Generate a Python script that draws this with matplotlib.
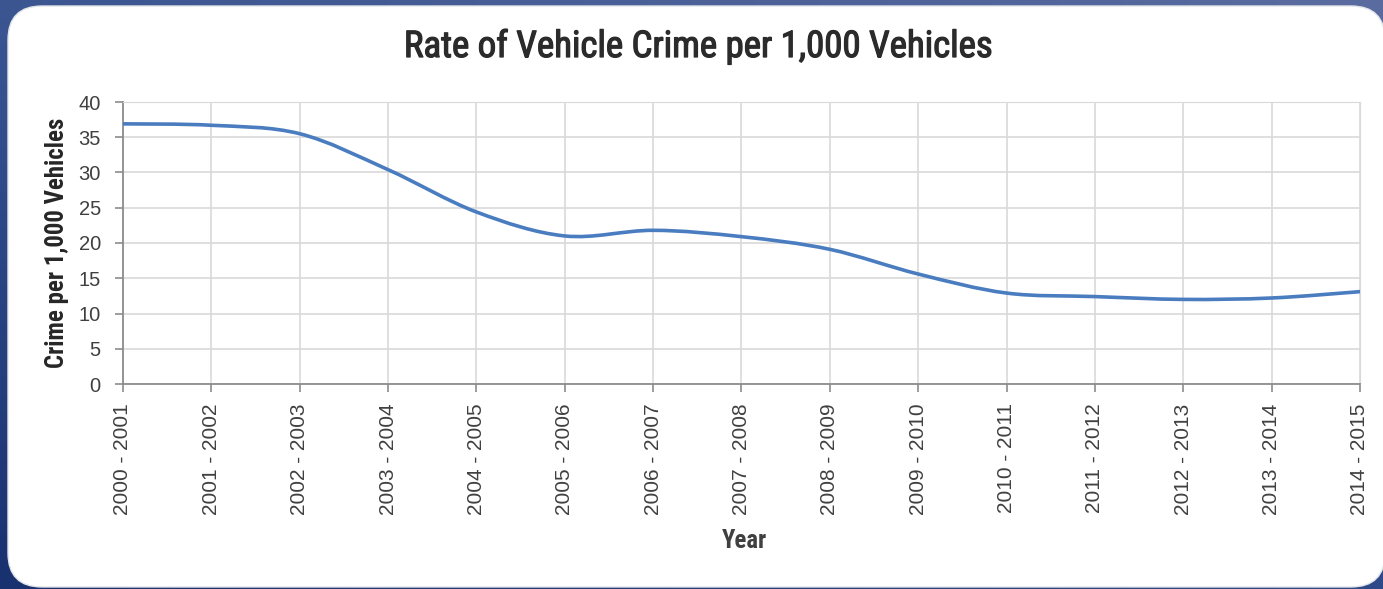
import numpy as np
import matplotlib
matplotlib.use('Agg')
import matplotlib.pyplot as plt
import matplotlib.patheffects as pe
from matplotlib import font_manager
from matplotlib.path import Path
from matplotlib.patches import PathPatch, FancyBboxPatch
from matplotlib.colors import LinearSegmentedColormap

# chart data
years = ['2000 - 2001', '2001 - 2002', '2002 - 2003', '2003 - 2004', '2004 - 2005',
         '2005 - 2006', '2006 - 2007', '2007 - 2008', '2008 - 2009', '2009 - 2010',
         '2010 - 2011', '2011 - 2012', '2012 - 2013', '2013 - 2014', '2014 - 2015']
rate = [36.9, 36.7, 35.5, 30.4, 24.4, 21.0, 21.8, 20.9, 19.1, 15.6,
        12.9, 12.4, 12.0, 12.2, 13.1]
y_ticks = [0, 5, 10, 15, 20, 25, 30, 35, 40]

# pick a narrow face if one is installed
names = sorted({f.name for f in font_manager.fontManager.ttflist})
narrow = 'Liberation Sans'
for cand in ['Liberation Sans Narrow', 'Roboto Condensed', 'Open Sans Condensed',
             'DejaVu Sans Condensed', 'Noto Sans Condensed']:
    if cand in names:
        narrow = cand
        break
else:
    for n in names:
        if 'Narrow' in n or 'Condensed' in n:
            narrow = n
            break
plt.rcParams['font.family'] = ['Liberation Sans', 'DejaVu Sans']

W, H = 1383, 589
fig = plt.figure(figsize=(W / 100, H / 100), dpi=100)

# blue backdrop with white rounded panel, in pixel units
bg = fig.add_axes([0, 0, 1, 1], zorder=0)
bg.set_xlim(0, W)
bg.set_ylim(H, 0)
bg.axis('off')
cmap = LinearSegmentedColormap.from_list('bg', ['#5a6c9f', '#34508e', '#1a3170'])
gx, gy = np.meshgrid(np.linspace(0, 1, 64), np.linspace(0, 1, 64))
bg.imshow(0.6 * gy + 0.4 * (1 - gx), cmap=cmap, extent=[0, W, H, 0], aspect='auto')
panel = FancyBboxPatch((8, 6), W + 2 - 8, H - 2 - 6,
                       boxstyle='round,pad=0,rounding_size=34',
                       facecolor='white', edgecolor='#e2e5ea', linewidth=1)
bg.add_patch(panel)

ax = fig.add_axes([123 / W, 1 - 384 / H, (1360 - 123) / W, (384 - 102) / H], zorder=1)
ax.set_facecolor('none')
x = np.arange(len(years))
y = np.array(rate, dtype=float)

# smooth line through the points (cubic bezier, catmull-rom style)
pts = np.column_stack([x, y])
verts = [pts[0]]
codes = [Path.MOVETO]
for i in range(len(pts) - 1):
    p0 = pts[max(i - 1, 0)]
    p1 = pts[i]
    p2 = pts[i + 1]
    p3 = pts[min(i + 2, len(pts) - 1)]
    verts += [p1 + (p2 - p0) / 6, p2 - (p3 - p1) / 6, p2]
    codes += [Path.CURVE4] * 3
ax.add_patch(PathPatch(Path(verts, codes), facecolor='none', edgecolor='#4a7cc0',
                       linewidth=2.6, capstyle='round', zorder=3))

ax.set_xlim(0, len(years) - 1)
ax.set_ylim(0, 40)
ax.set_xticks(x)
ax.set_xticklabels(years, rotation=90, fontsize=15, color='#404040')
ax.set_yticks(y_ticks)
ax.set_yticklabels([str(v) for v in y_ticks], fontsize=14.5, color='#404040')
ax.grid(True, color='#d9d9d9', linewidth=1.2)
ax.set_axisbelow(True)
for s in ['top', 'right']:
    ax.spines[s].set_color('#d9d9d9')
for s in ['left', 'bottom']:
    ax.spines[s].set_color('#8c8c8c')
    ax.spines[s].set_linewidth(1.3)
ax.tick_params(axis='both', direction='out', length=6, width=1.2, color='#8c8c8c')
ax.tick_params(axis='x', pad=8)
ax.tick_params(axis='y', pad=10)

title = fig.text(698 / W, 1 - 47 / H, 'Rate of Vehicle Crime per 1,000 Vehicles',
                 fontsize=23, family=narrow, weight='normal', color='#2b2b2b',
                 ha='center', va='center')
title.set_path_effects([pe.withStroke(linewidth=0.9, foreground='#2b2b2b')])
ylab = fig.text(57 / W, 1 - 243 / H, 'Crime per 1,000 Vehicles', rotation=90,
                fontsize=15, family=narrow, weight='bold', color='#262626',
                ha='center', va='center')
xlab = fig.text(744 / W, 1 - 541 / H, 'Year', fontsize=15, family=narrow, weight='bold',
                color='#404040', ha='center', va='center')

# size the title and axis labels to the span they take in the picture
r = fig.canvas.get_renderer()
bw = title.get_window_extent(r).width
title.set_fontsize(23 * 590 / bw)
bh = ylab.get_window_extent(r).height
ylab.set_fontsize(15 * 250 / bh)
bx = xlab.get_window_extent(r).width
xlab.set_fontsize(15 * 45 / bx)

fig.savefig('out.png', dpi=100)
